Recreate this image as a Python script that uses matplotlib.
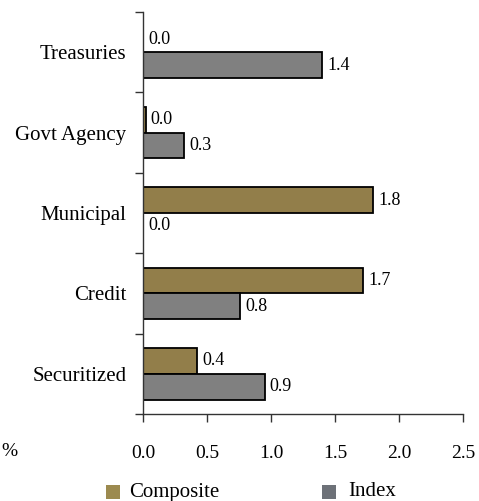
import matplotlib
matplotlib.use("Agg")
import matplotlib.pyplot as plt
from matplotlib.patches import Rectangle
import numpy as np

categories = ["Treasuries", "Govt Agency", "Municipal", "Credit", "Securitized"]
composite = [0.0, 0.02, 1.8, 1.72, 0.42]
index_vals = [1.4, 0.32, 0.0, 0.76, 0.95]
xticks = [0.0, 0.5, 1.0, 1.5, 2.0, 2.5]
series_names = ["Composite", "Index"]

comp_color = "#927E4A"
idx_color = "#808080"
comp_leg = "#9C8A4F"
idx_leg = "#6D7178"

plt.rcParams['font.family'] = ['Liberation Serif', 'DejaVu Serif']

W, H = 479, 501
fig = plt.figure(figsize=(W/100, H/100), dpi=100)
ax = fig.add_axes([143/W, 1-414/H, 320/W, 402/H])

n = len(categories)
y = np.arange(n)
h = 0.32
ax.barh(y - h/2, composite, height=h, color=comp_color, edgecolor="black", linewidth=1.3)
ax.barh(y + h/2, index_vals, height=h, color=idx_color, edgecolor="black", linewidth=1.3)

fs = 13
for yi, v in zip(y - h/2, composite):
    ax.text(v + 0.04, yi, f"{v:.1f}", va="center", ha="left", fontsize=fs)
for yi, v in zip(y + h/2, index_vals):
    ax.text(v + 0.04, yi, f"{v:.1f}", va="center", ha="left", fontsize=fs)

ax.set_ylim(n - 0.5, -0.5)
ax.set_xlim(0, 2.5)
ax.set_yticks(y)
ax.set_yticklabels(categories, fontsize=15)
ax.tick_params(axis="y", which="major", length=0, pad=12)
ax.set_yticks(np.arange(-0.5, n, 1.0), minor=True)
ax.tick_params(axis="y", which="minor", length=6, width=1, color="#333333")
ax.set_xticks(xticks)
ax.set_xticklabels([f"{t:.1f}" for t in xticks], fontsize=14)
ax.tick_params(axis="x", length=6, width=1, color="#333333", pad=16)
for s in ["top", "right"]:
    ax.spines[s].set_visible(False)
for s in ["left", "bottom"]:
    ax.spines[s].set_color("#333333")
    ax.spines[s].set_linewidth(1)

fig.text(1/W, 1-452/H, "%", fontsize=14, ha="left", va="center")

# legend
for (px, tx), name, col in zip([(106, 129), (322, 348)], series_names, [comp_leg, idx_leg]):
    fig.add_artist(Rectangle((px/W, 1-499/H), 14/W, 14/H, transform=fig.transFigure,
                             facecolor=col, edgecolor="none"))
    fig.text(tx/W, 1-492/H, name, fontsize=15, ha="left", va="center")

fig.savefig("out.png", dpi=100)
